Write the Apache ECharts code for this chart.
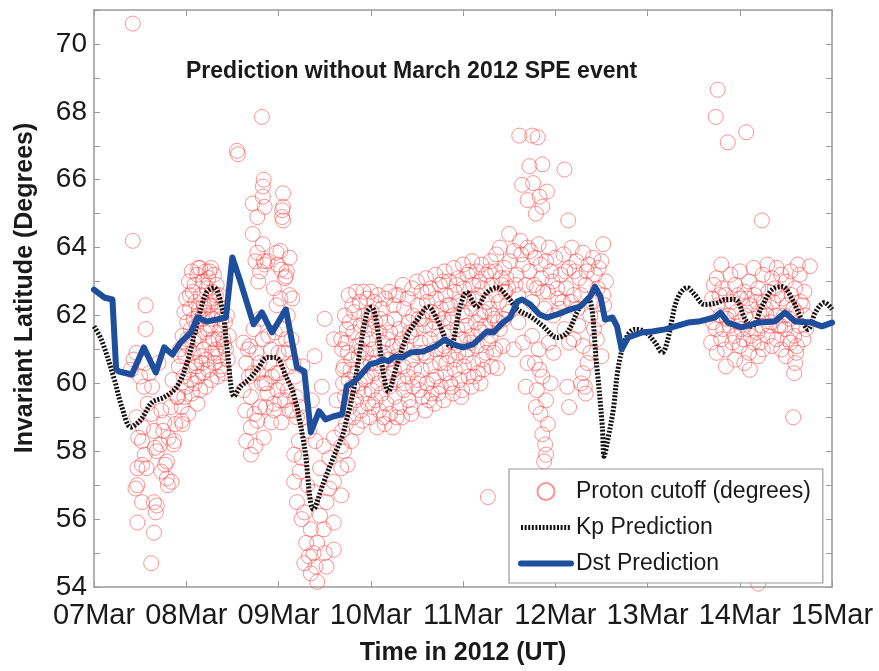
<!DOCTYPE html>
<html>
<head>
<meta charset="utf-8">
<script src="https://cdn.jsdelivr.net/npm/echarts@6/dist/echarts.min.js"></script>
<style>
  html, body { margin: 0; padding: 0; background: #fff; }
  #chart { width: 879px; height: 671px; }
</style>
</head>
<body>
<div id="chart"></div>
<script>
// Day ticks (days since 07 Mar 2012 00 UT)
const dayLabels = ['07Mar', '08Mar', '09Mar', '10Mar', '11Mar', '12Mar', '13Mar', '14Mar', '15Mar'];

// Dst-driven cutoff prediction: [day, invariant latitude]
const dstPrediction = [
  [0, 62.76], [0.11, 62.53], [0.2, 62.47], [0.24, 60.41], [0.27, 60.35], [0.41, 60.26],
  [0.54, 61.06], [0.67, 60.32], [0.76, 61.06], [0.85, 60.85], [0.94, 61.21], [1.05, 61.5],
  [1.12, 61.94], [1.22, 61.82], [1.43, 61.94], [1.5, 63.71], [1.59, 62.97], [1.73, 61.74],
  [1.82, 62.09], [1.93, 61.5], [2.08, 62.18], [2.2, 60.47], [2.28, 60.35], [2.35, 58.56],
  [2.44, 59.18], [2.51, 58.94], [2.6, 59.03], [2.69, 59.09], [2.74, 59.91], [2.81, 60.03],
  [2.88, 60.21], [2.99, 60.56], [3.07, 60.62], [3.13, 60.71], [3.19, 60.65], [3.26, 60.79],
  [3.34, 60.76], [3.43, 60.91], [3.57, 60.94], [3.7, 61.09], [3.8, 61.29], [3.89, 61.15],
  [4.0, 61.06], [4.11, 61.15], [4.26, 61.53], [4.33, 61.5], [4.43, 61.79], [4.51, 61.94],
  [4.59, 62.41], [4.64, 62.47], [4.73, 62.32], [4.83, 62.03], [4.91, 61.94], [5.02, 62.03],
  [5.16, 62.18], [5.27, 62.26], [5.38, 62.56], [5.43, 62.85], [5.49, 62.56], [5.54, 61.88],
  [5.62, 61.94], [5.67, 61.68], [5.72, 61.0], [5.79, 61.35], [5.94, 61.5], [6.05, 61.53],
  [6.19, 61.59], [6.3, 61.68], [6.44, 61.79], [6.55, 61.82], [6.73, 61.94], [6.79, 62.09],
  [6.87, 61.79], [7.02, 61.65], [7.2, 61.79], [7.38, 61.82], [7.49, 62.09], [7.6, 61.82],
  [7.78, 61.79], [7.89, 61.68], [8.0, 61.79]
];

// Kp-driven cutoff prediction: [day, invariant latitude]
const kpPrediction = [
  [0, 61.68], [0.08, 61.29], [0.22, 60.12], [0.3, 59.32], [0.4, 58.71], [0.51, 58.94],
  [0.63, 59.44], [0.76, 59.59], [0.9, 59.91], [1.01, 60.62], [1.12, 61.79], [1.22, 62.68],
  [1.3, 62.82], [1.39, 62.18], [1.44, 61.09], [1.52, 59.62], [1.59, 59.91], [1.68, 60.12],
  [1.77, 60.41], [1.88, 60.76], [1.97, 60.76], [2.08, 60.21], [2.17, 59.62], [2.28, 58.15],
  [2.38, 56.29], [2.49, 57.09], [2.6, 57.85], [2.69, 58.44], [2.74, 58.94], [2.81, 59.74],
  [2.88, 60.91], [2.96, 62.09], [3.01, 62.24], [3.07, 61.68], [3.13, 60.41], [3.19, 59.76],
  [3.28, 60.5], [3.39, 61.38], [3.53, 61.97], [3.62, 62.26], [3.72, 61.88], [3.86, 61.09],
  [3.97, 62.26], [4.04, 62.68], [4.15, 62.26], [4.26, 62.68], [4.37, 62.82], [4.48, 62.56],
  [4.59, 62.18], [4.73, 61.97], [4.87, 61.68], [5.02, 61.35], [5.13, 61.5], [5.27, 62.26],
  [5.36, 62.47], [5.45, 60.5], [5.51, 58.74], [5.53, 57.85], [5.57, 58.35], [5.63, 59.24],
  [5.68, 60.41], [5.76, 61.29], [5.86, 61.59], [5.97, 61.53], [6.08, 61.21], [6.16, 60.91],
  [6.22, 61.29], [6.32, 62.47], [6.43, 62.82], [6.51, 62.62], [6.62, 62.32], [6.76, 62.38],
  [6.84, 62.47], [6.95, 62.47], [7.06, 61.88], [7.13, 61.68], [7.24, 62.26], [7.35, 62.76],
  [7.46, 62.85], [7.57, 62.47], [7.67, 61.88], [7.74, 61.59], [7.82, 62.09], [7.92, 62.38],
  [8.0, 62.18]
];

// Observed proton cutoff latitudes: [day, invariant latitude]
const protonCutoff = [
  // 07 Mar
  [0.42, 70.6], [0.42, 64.2], [0.56, 62.3], [0.56, 61.6], [0.46, 60.9], [0.43, 60.7],
  [0.54, 59.9], [0.63, 59.9], [0.58, 59.4], [0.73, 59.2], [0.46, 59.0], [0.76, 58.85],
  [0.95, 58.9], [0.65, 58.6], [0.52, 58.3], [0.81, 58.4], [0.87, 58.3], [0.55, 57.9],
  [0.68, 58.0], [0.79, 57.7], [0.47, 57.5], [0.73, 57.4], [0.84, 57.1], [0.47, 57.0],
  [0.65, 56.5], [0.67, 56.2], [0.47, 55.9], [0.65, 55.6], [0.62, 54.7], [0.45, 56.9],
  [0.52, 56.5], [0.68, 56.4], [0.8, 57.0], [0.79, 57.2], [0.77, 57.6], [0.86, 58.2],
  [0.48, 58.4], [0.53, 58.7], [0.75, 58.6], [0.96, 58.8], [0.66, 58.1], [0.57, 57.5],
  [0.52, 57.6], [0.6, 60.3], [0.7, 60.6], [0.85, 60.1], [0.9, 59.6], [0.62, 59.1],
  [0.72, 58.2], [0.55, 60.6], [0.83, 59.3], [0.88, 58.8], [0.5, 60.2], [0.4, 60.4],
  // 08 Mar
  [0.92, 60.5], [0.91, 59.6], [0.93, 61.0], [0.96, 61.4], [0.97, 60.2], [0.95, 59.3],
  [0.98, 62.1], [1.0, 62.5], [1.01, 61.8], [0.99, 60.8], [1.0, 59.9], [1.02, 59.1],
  [1.03, 63.0], [1.04, 62.2], [1.02, 61.1], [1.04, 60.4], [1.06, 63.3], [1.07, 62.7],
  [1.05, 61.6], [1.07, 60.9], [1.06, 59.7], [1.09, 62.9], [1.1, 62.4], [1.08, 61.3],
  [1.1, 60.6], [1.09, 60.0], [1.12, 63.2], [1.13, 62.0], [1.11, 61.7], [1.13, 60.2],
  [1.12, 59.4], [1.15, 63.4], [1.16, 62.6], [1.14, 61.4], [1.16, 60.8], [1.15, 59.8],
  [1.18, 63.0], [1.19, 62.3], [1.17, 61.9], [1.19, 61.0], [1.18, 60.3], [1.21, 63.3],
  [1.22, 62.8], [1.2, 61.5], [1.22, 60.7], [1.21, 59.9], [1.24, 63.1], [1.25, 62.5],
  [1.23, 62.0], [1.25, 61.2], [1.24, 60.4], [1.27, 63.4], [1.28, 62.7], [1.26, 61.7],
  [1.28, 60.9], [1.27, 60.1], [1.3, 63.2], [1.31, 62.4], [1.29, 61.3], [1.31, 60.6],
  [1.33, 62.9], [1.34, 62.1], [1.32, 61.0], [1.34, 60.2], [1.36, 62.6], [1.37, 61.6],
  [1.35, 60.8], [1.37, 60.4], [1.39, 62.2], [1.4, 61.3], [1.38, 60.5], [1.42, 61.8],
  [1.43, 61.0], [1.41, 60.3], [1.46, 61.4], [1.45, 60.7],
  [0.94, 60.8], [0.98, 59.6], [1.01, 61.3], [1.04, 62.6], [1.05, 60.1], [1.08, 61.9],
  [1.11, 60.5], [1.14, 62.2], [1.17, 60.6], [1.2, 62.2], [1.23, 61.6], [1.26, 62.3],
  [1.29, 61.9], [1.32, 62.6], [1.35, 61.3], [1.38, 61.9], [1.41, 61.1], [1.44, 62.0],
  [1.13, 63.4], [1.25, 63.3],
  // 09 Mar
  [1.55, 66.85], [1.56, 66.75], [1.82, 67.85], [1.83, 65.8], [1.84, 66.0], [1.83, 65.5],
  [2.05, 65.6], [1.85, 65.2], [2.05, 65.2], [2.04, 64.9], [1.77, 64.9], [1.72, 64.4],
  [1.84, 63.6], [1.78, 63.0], [2.02, 63.9], [2.07, 63.1], [2.12, 63.7], [1.95, 62.8],
  [2.02, 62.5], [1.69, 61.1], [1.75, 63.6], [1.85, 63.5], [2.03, 63.35], [2.08, 63.15],
  [1.98, 62.3], [2.15, 62.5], [2.5, 61.9], [2.39, 60.8], [1.72, 65.3], [2.04, 65.1],
  [2.05, 64.8], [1.83, 64.1], [1.77, 63.85], [1.88, 63.6], [1.8, 63.3], [1.98, 63.85],
  [1.99, 63.5], [2.09, 63.3], [2.12, 62.6],
  [1.62, 61.2], [1.65, 60.6], [1.62, 59.8], [1.68, 60.2], [1.7, 59.6], [1.73, 61.6],
  [1.76, 60.9], [1.78, 60.3], [1.8, 59.3], [1.83, 61.3], [1.85, 60.0], [1.88, 59.7],
  [1.9, 60.6], [1.92, 61.0], [1.95, 59.2], [1.97, 60.3], [2.0, 60.9], [2.02, 59.5],
  [2.05, 60.0], [2.08, 61.3], [2.1, 59.8], [2.12, 60.5], [2.15, 59.2], [2.18, 60.2],
  [2.2, 59.0], [1.7, 58.7], [1.65, 58.3], [1.7, 57.9], [1.75, 58.15], [1.77, 58.9],
  [1.84, 58.4], [1.92, 58.85], [1.95, 59.4], [1.87, 60.0], [2.0, 60.3], [2.06, 60.9],
  [2.14, 61.3], [2.12, 59.2], [1.8, 61.9], [2.1, 62.0],
  [1.64, 59.2], [1.67, 61.0], [1.72, 60.3], [1.74, 59.1], [1.79, 60.6], [1.82, 60.0],
  [1.86, 59.3], [1.89, 61.4], [1.93, 60.2], [1.96, 61.5], [1.99, 59.8], [2.03, 61.6],
  [2.07, 59.5], [2.11, 61.0], [2.16, 60.6], [2.19, 59.6], [2.23, 59.3], [2.26, 60.5],
  [2.17, 57.1], [2.23, 57.4], [2.2, 56.5], [2.28, 56.2], [2.35, 55.7], [2.42, 55.3],
  [2.28, 54.7], [2.35, 54.4], [2.42, 54.15], [2.52, 54.6], [2.6, 55.1], [2.49, 55.7],
  [2.6, 55.9], [2.52, 56.5], [2.68, 56.7], [2.6, 57.1], [2.68, 57.5], [2.68, 58.15],
  [2.69, 58.6], [2.6, 58.4], [2.49, 58.15], [2.17, 57.9], [2.03, 58.85], [2.27, 59.0],
  [2.25, 57.8], [2.31, 57.0], [2.38, 56.8], [2.45, 57.5], [2.4, 58.3], [2.33, 58.6],
  [2.55, 57.8], [2.3, 55.3], [2.38, 55.0], [2.45, 56.1], [2.55, 56.9], [2.22, 58.3],
  [2.36, 59.5], [2.47, 59.9], [2.63, 59.5], [2.7, 60.0], [2.68, 61.3], [2.6, 61.3],
  [2.69, 61.0], [2.7, 60.4], [2.25, 56.0], [2.4, 54.6], [2.5, 55.0], [2.33, 54.9],
  // 10 - 11 Mar
  [2.72, 62.0], [2.73, 61.2], [2.71, 60.5], [2.72, 59.6], [2.73, 58.8], [2.71, 58.0],
  [2.76, 62.6], [2.77, 61.8], [2.75, 60.9], [2.76, 60.1], [2.77, 59.3], [2.75, 57.6],
  [2.8, 62.3], [2.81, 61.5], [2.79, 60.7], [2.8, 59.9], [2.81, 59.0], [2.79, 58.3],
  [2.84, 62.7], [2.85, 61.1], [2.83, 60.3], [2.84, 59.5], [2.85, 58.7],
  [2.88, 62.4], [2.89, 61.7], [2.87, 60.8], [2.88, 60.0], [2.89, 59.2],
  [2.92, 62.7], [2.93, 62.0], [2.91, 61.3], [2.92, 60.5], [2.93, 59.7], [2.91, 58.9],
  [2.96, 62.5], [2.97, 61.6], [2.95, 60.9], [2.96, 60.2], [2.97, 59.4],
  [3.0, 62.7], [3.01, 62.1], [2.99, 61.3], [3.0, 60.6], [3.01, 59.8], [2.99, 59.0],
  [3.04, 62.4], [3.05, 61.8], [3.03, 61.0], [3.04, 60.3], [3.05, 59.5],
  [3.08, 62.6], [3.09, 61.5], [3.07, 60.8], [3.08, 60.0], [3.09, 59.2], [3.07, 58.7],
  [3.12, 62.2], [3.13, 61.2], [3.11, 60.5], [3.12, 59.7],
  [3.16, 62.5], [3.17, 61.8], [3.15, 60.9], [3.16, 60.2], [3.17, 59.4], [3.15, 58.8],
  [3.2, 62.7], [3.21, 61.5], [3.19, 60.7], [3.2, 59.9], [3.21, 59.1],
  [3.25, 62.3], [3.26, 61.9], [3.24, 61.1], [3.25, 60.4], [3.26, 59.6], [3.24, 58.7],
  [3.3, 62.6], [3.31, 61.6], [3.29, 60.8], [3.3, 60.1], [3.31, 59.3],
  [3.35, 62.9], [3.36, 62.2], [3.34, 61.3], [3.35, 60.5], [3.36, 59.8], [3.34, 59.0],
  [3.4, 62.5], [3.41, 61.8], [3.39, 61.0], [3.4, 60.2], [3.41, 59.5],
  [3.45, 62.8], [3.46, 62.0], [3.44, 61.4], [3.45, 60.7], [3.46, 59.9], [3.44, 59.1],
  [3.5, 63.0], [3.51, 62.3], [3.49, 61.6], [3.5, 60.9], [3.51, 60.1],
  [3.55, 62.7], [3.56, 61.9], [3.54, 61.2], [3.55, 60.4], [3.56, 59.6],
  [3.6, 63.1], [3.61, 62.4], [3.59, 61.7], [3.6, 60.8], [3.61, 60.0], [3.59, 59.2],
  [3.65, 62.8], [3.66, 62.1], [3.64, 61.3], [3.65, 60.5], [3.66, 59.7],
  [3.7, 63.2], [3.71, 62.5], [3.69, 61.8], [3.7, 61.0], [3.71, 60.2], [3.69, 59.4],
  [3.75, 62.9], [3.76, 62.2], [3.74, 61.4], [3.75, 60.6], [3.76, 59.9],
  [3.8, 63.3], [3.81, 62.6], [3.79, 61.9], [3.8, 61.1], [3.81, 60.3], [3.79, 59.5],
  [3.85, 63.0], [3.86, 62.3], [3.84, 61.5], [3.85, 60.8], [3.86, 60.0],
  [3.9, 63.4], [3.91, 62.7], [3.89, 62.0], [3.9, 61.2], [3.91, 60.4], [3.89, 59.7],
  [3.95, 63.1], [3.96, 62.4], [3.94, 61.6], [3.95, 60.9], [3.96, 60.1],
  [4.0, 63.5], [4.01, 62.8], [3.99, 62.1], [4.0, 61.3], [4.01, 60.5], [3.99, 59.8],
  [4.05, 63.2], [4.06, 62.5], [4.04, 61.7], [4.05, 61.0], [4.06, 60.2],
  [4.1, 63.6], [4.11, 62.9], [4.09, 62.2], [4.1, 61.4], [4.11, 60.6], [4.09, 59.9],
  [4.15, 63.3], [4.16, 62.6], [4.14, 61.8], [4.15, 61.1], [4.16, 60.3],
  [4.2, 63.5], [4.21, 62.8], [4.19, 62.0], [4.2, 61.5], [4.21, 60.7], [4.19, 60.0],
  [4.25, 63.2], [4.26, 62.4], [4.24, 61.7], [4.25, 60.9],
  [4.3, 63.6], [4.31, 62.9], [4.29, 62.2], [4.3, 61.4], [4.31, 60.5],
  [4.35, 63.3], [4.36, 62.6], [4.34, 61.9], [4.35, 61.0], [4.37, 60.45],
  [4.4, 64.0], [4.41, 63.1], [4.39, 62.4], [4.4, 61.6],
  [4.45, 63.4], [4.46, 62.7], [4.44, 61.9],
  [4.5, 64.4], [4.51, 63.6], [4.49, 62.8], [4.5, 62.1],
  [4.27, 56.65], [4.36, 63.8],
  [2.74, 61.6], [2.78, 60.4], [2.82, 62.1], [2.86, 59.8], [2.9, 61.0], [2.94, 60.1],
  [2.98, 61.9], [3.02, 59.3], [3.06, 60.6], [3.1, 61.9], [3.14, 59.0], [3.18, 61.3],
  [3.22, 60.3], [3.27, 62.6], [3.28, 59.0], [3.32, 61.1], [3.37, 60.0], [3.42, 61.5],
  [3.43, 59.3], [3.47, 60.4], [3.52, 61.9], [3.53, 59.8], [3.57, 60.9], [3.62, 62.7],
  [3.63, 59.5], [3.67, 61.6], [3.68, 60.1], [3.72, 62.0], [3.73, 59.7], [3.77, 61.0],
  [3.78, 63.0], [3.82, 60.6], [3.83, 62.3], [3.87, 61.8], [3.88, 59.9], [3.92, 60.7],
  [3.93, 62.9], [3.97, 61.3], [3.98, 59.6], [4.02, 62.0], [4.03, 60.8], [4.07, 63.3],
  [4.08, 61.2], [4.12, 60.2], [4.13, 62.5], [4.17, 61.6], [4.18, 63.0], [4.22, 60.4],
  [4.23, 62.1], [4.27, 61.2], [4.28, 63.3], [4.32, 62.0], [4.33, 60.9], [4.38, 61.8],
  [4.42, 62.9], [4.43, 61.1], [4.47, 63.1], [4.48, 62.3],
  // 12 Mar
  [4.61, 67.3], [4.75, 67.3], [4.81, 67.25], [4.72, 66.4], [4.86, 66.45], [4.64, 65.85],
  [4.76, 65.9], [4.91, 65.65], [4.83, 65.5], [4.86, 65.2], [5.1, 66.3], [5.14, 64.8],
  [4.79, 65.0], [4.7, 65.4],
  [4.55, 63.9], [4.58, 63.2], [4.6, 62.6], [4.62, 64.2], [4.65, 63.5], [4.68, 62.9],
  [4.7, 64.0], [4.72, 63.3], [4.75, 62.4], [4.78, 63.7], [4.8, 62.8], [4.82, 64.1],
  [4.85, 63.1], [4.88, 62.2], [4.9, 63.6], [4.92, 62.7], [4.95, 63.3], [4.98, 62.0],
  [5.0, 63.7], [5.03, 62.5], [5.06, 63.2], [5.09, 63.8], [5.12, 62.8], [5.15, 63.4],
  [5.18, 64.0], [5.2, 62.6], [5.23, 63.6], [5.26, 63.1], [5.3, 63.85], [5.33, 62.9],
  [5.36, 63.5], [5.4, 62.4], [5.43, 63.2], [5.46, 62.8], [5.5, 63.6], [5.53, 62.3],
  [5.55, 63.0], [5.52, 64.1], [5.48, 61.9], [5.45, 61.3], [5.5, 60.8], [5.42, 61.6],
  [5.25, 61.7], [5.3, 61.1], [5.35, 60.6], [5.28, 60.0], [5.32, 59.9], [5.38, 60.9],
  [5.2, 61.3], [5.1, 61.6], [5.05, 62.2], [5.15, 61.2], [4.6, 61.8], [4.65, 61.2],
  [4.7, 60.6], [4.55, 61.0], [4.68, 59.9],
  [4.57, 62.9], [4.63, 63.8], [4.67, 62.2], [4.73, 63.9], [4.77, 62.9], [4.84, 63.5],
  [4.87, 62.7], [4.93, 64.0], [4.97, 63.0], [5.02, 62.8], [5.08, 62.4], [5.11, 63.3],
  [5.17, 62.4], [5.21, 63.3], [5.24, 62.2], [5.28, 62.6], [5.34, 63.3], [5.38, 62.0],
  [5.41, 63.7], [5.47, 63.4], [5.52, 62.6],
  [4.75, 61.4], [4.82, 61.0], [4.78, 60.6], [4.86, 60.2], [4.8, 59.8], [4.9, 59.5],
  [4.84, 59.1], [4.92, 58.8], [4.86, 58.5], [4.89, 58.2], [4.88, 57.7], [4.83, 60.4],
  [4.95, 60.0], [4.79, 59.3], [4.93, 61.2], [4.98, 60.9], [4.9, 57.9], [5.13, 59.9],
  [5.15, 59.3], [5.3, 60.3], [5.33, 59.7],
  // 14 Mar
  [6.76, 68.65], [6.74, 67.85], [6.87, 67.1], [7.07, 67.4], [7.24, 64.8], [7.59, 60.3],
  [7.58, 59.0], [7.61, 60.9], [7.2, 54.1],
  [6.7, 62.5], [6.71, 61.8], [6.69, 61.2],
  [6.75, 63.1], [6.76, 62.3], [6.74, 61.6], [6.75, 60.9],
  [6.8, 63.5], [6.81, 62.8], [6.79, 62.0], [6.8, 61.3],
  [6.85, 62.6], [6.86, 61.9], [6.84, 61.0], [6.85, 60.5],
  [6.9, 63.2], [6.91, 62.4], [6.89, 61.7],
  [6.95, 62.9], [6.96, 62.1], [6.94, 61.4], [6.95, 60.7],
  [7.0, 63.3], [7.01, 62.5], [6.99, 61.8], [7.0, 61.1],
  [7.05, 62.7], [7.06, 62.0], [7.04, 61.3], [7.05, 60.6],
  [7.1, 63.0], [7.11, 62.3], [7.09, 61.6], [7.1, 60.9], [7.11, 60.4],
  [7.15, 63.4], [7.16, 62.6], [7.14, 61.9], [7.15, 61.2],
  [7.2, 62.8], [7.21, 62.1], [7.19, 61.5], [7.2, 60.8],
  [7.25, 63.2], [7.26, 62.4], [7.24, 61.7], [7.25, 61.0],
  [7.3, 63.5], [7.31, 62.7], [7.29, 62.0], [7.3, 61.4],
  [7.35, 63.1], [7.36, 62.4], [7.34, 61.8], [7.35, 61.1],
  [7.4, 63.4], [7.41, 62.6], [7.39, 62.0], [7.4, 61.3],
  [7.45, 63.2], [7.46, 62.5], [7.44, 61.7], [7.45, 61.0],
  [7.5, 63.0], [7.51, 62.3], [7.49, 61.6], [7.5, 60.8],
  [7.55, 63.3], [7.56, 62.6], [7.54, 61.9], [7.55, 61.2],
  [7.6, 62.8], [7.61, 62.1], [7.59, 61.4], [7.6, 60.6],
  [7.65, 63.2], [7.66, 62.4], [7.64, 61.7],
  [7.7, 62.7], [7.71, 62.0], [7.69, 61.3], [7.76, 63.45],
  [6.72, 62.9], [6.78, 62.6], [6.82, 61.6], [6.88, 62.0], [6.92, 61.2], [6.98, 62.6],
  [7.02, 61.6], [7.08, 62.5], [7.12, 61.4], [7.18, 62.4], [7.22, 61.2], [7.28, 62.2],
  [7.32, 61.7], [7.38, 62.8], [7.42, 61.7], [7.48, 62.0], [7.52, 61.3], [7.58, 62.2],
  [7.62, 61.1], [7.68, 62.3], [7.72, 61.6], [7.63, 63.5]
];

const FONT = '"Liberation Sans", Arial, Helvetica, sans-serif';
const INK = '#1a1a1a';
const FRAME = '#9a9a9a';
const KP_COLOR = '#111111';
const DST_COLOR = '#1d4f9c';

const chart = echarts.init(document.getElementById('chart'), null, { renderer: 'canvas' });

const tickCommon = { show: true, inside: true, length: 6, lineStyle: { color: FRAME, width: 1 } };
const lineCommon = { show: true, onZero: false, lineStyle: { color: FRAME, width: 1.5 } };

chart.setOption({
  backgroundColor: '#ffffff',
  animation: false,
  title: {
    text: 'Prediction without March 2012 SPE event',
    left: 186, top: 60, padding: 0,
    textStyle: { fontFamily: FONT, fontSize: 23, fontWeight: 'bold', color: INK }
  },
  grid: { left: 94, right: 47, top: 10, bottom: 83, containLabel: false },
  xAxis: [{
    type: 'value', min: 0, max: 8, interval: 1, position: 'bottom',
    axisLine: lineCommon, axisTick: tickCommon, splitLine: { show: false },
    axisLabel: {
      margin: 14, fontFamily: FONT, fontSize: 29, color: INK,
      formatter: v => dayLabels[Math.round(v)]
    },
    name: 'Time in 2012 (UT)', nameLocation: 'middle', nameGap: 54,
    nameTextStyle: { fontFamily: FONT, fontSize: 25, fontWeight: 'bold', color: INK }
  }, {
    type: 'value', min: 0, max: 8, interval: 1, position: 'top',
    axisLine: lineCommon, axisTick: tickCommon, splitLine: { show: false },
    axisLabel: { show: false }
  }],
  yAxis: [{
    type: 'value', min: 54, max: 71, interval: 1, position: 'left',
    axisLine: lineCommon, axisTick: tickCommon, splitLine: { show: false },
    axisLabel: {
      margin: 7, fontFamily: FONT, fontSize: 28, color: INK,
      formatter: v => (v % 2 === 0 ? String(v) : '')
    }
  }, {
    type: 'value', min: 54, max: 71, interval: 1, position: 'right',
    axisLine: lineCommon, axisTick: tickCommon, splitLine: { show: false },
    axisLabel: { show: false }
  }],
  graphic: [{
    type: 'text', x: 25, y: 288, rotation: Math.PI / 2,
    style: {
      text: 'Invariant Latitude (Degrees)', fontFamily: FONT, fontSize: 25,
      fontWeight: 'bold', fill: INK, align: 'center', verticalAlign: 'middle'
    }
  }],
  legend: {
    orient: 'vertical', left: 509, top: 469, z: 10,
    backgroundColor: '#ffffff', borderColor: '#9a9a9a', borderWidth: 1.2, borderRadius: 0,
    padding: [11, 12, 8, 9], itemGap: 13, itemWidth: 50, itemHeight: 17,
    textStyle: { fontFamily: FONT, fontSize: 23, color: INK, padding: [0, 0, 0, 0] },
    data: [
      { name: 'Proton cutoff (degrees)' },
      { name: 'Kp Prediction', icon: 'inherit', itemStyle: { opacity: 0 },
        lineStyle: { width: 5, color: KP_COLOR, type: [2, 1.6] } },
      { name: 'Dst Prediction', icon: 'inherit', itemStyle: { opacity: 0 },
        lineStyle: { width: 6, color: DST_COLOR } }
    ]
  },
  series: [{
    name: 'Proton cutoff (degrees)', type: 'scatter', xAxisIndex: 0, yAxisIndex: 0,
    symbol: 'circle', symbolSize: 15, data: protonCutoff, z: 2,
    itemStyle: { color: 'rgba(255,255,255,0)', borderColor: 'rgba(255,50,50,0.66)', borderWidth: 1 }
  }, {
    name: 'Kp Prediction', type: 'line', xAxisIndex: 0, yAxisIndex: 0,
    data: kpPrediction, smooth: 0.35, symbol: 'none', z: 3,
    lineStyle: { color: KP_COLOR, width: 5, type: [2, 1.6] },
    itemStyle: { color: KP_COLOR }
  }, {
    name: 'Dst Prediction', type: 'line', xAxisIndex: 0, yAxisIndex: 0,
    data: dstPrediction, symbol: 'none', z: 4,
    lineStyle: { color: DST_COLOR, width: 6, join: 'round', cap: 'round' },
    itemStyle: { color: DST_COLOR }
  }]
});
</script>
</body>
</html>
